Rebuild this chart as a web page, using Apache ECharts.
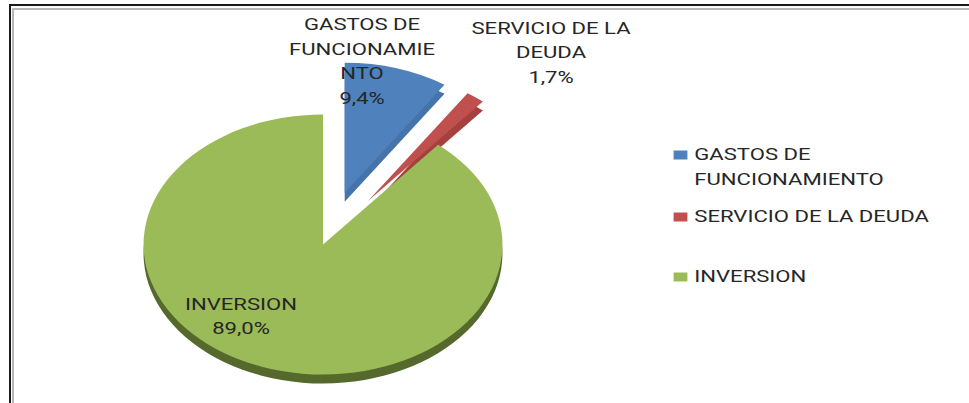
<!DOCTYPE html>
<html><head><meta charset="utf-8">
<script src="https://cdn.jsdelivr.net/npm/echarts@6/dist/echarts.min.js"></script>
<style>
html,body{margin:0;padding:0;background:#fff;overflow:hidden;}
#wrap{position:relative;width:969px;height:403px;overflow:hidden;background:#fff;}
#chart{position:absolute;left:0;top:0;width:702px;height:403px;transform:scaleX(1.38034);transform-origin:0 0;}
#f1{position:absolute;left:9px;top:4px;right:-10px;bottom:-10px;border-left:2px solid #1a1a1a;border-top:2px solid #1a1a1a;}
#f2{position:absolute;left:12px;top:8px;right:-10px;bottom:-10px;border-left:2px solid #b8b8b8;border-top:2px solid #b8b8b8;}
</style></head>
<body><div id="wrap"><div id="chart"></div><div id="f1"></div><div id="f2"></div></div>
<script>
// ---- data ----
const categories = ['GASTOS DE FUNCIONAMIENTO', 'SERVICIO DE LA DEUDA', 'INVERSION'];
const values = [9.4, 1.7, 89.0];
const sliceLabels = ['GASTOS DE\nFUNCIONAMIE\nNTO', 'SERVICIO DE LA\nDEUDA', 'INVERSION'];
const legendLabels = ['\nGASTOS DE\nFUNCIONAMIENTO', 'SERVICIO DE LA DEUDA', 'INVERSION'];
const exploded = [true, true, false];

// ---- style ----
const faceColors = ['#4F81BD', '#C0504D', '#9BBB59'];
const sideColors = ['#4674aa', '#a4413e', '#56692c'];
const labelPos = [[262.3, 61.5], [399.2, 53], [174.6, 316.5]];
const legendTops = [117.5, 204.5, 264.5];
const FONT = 'Roboto, "Liberation Sans", Arial, sans-serif';
const center = [234, 244.5];
const radius = 130;
const depth = 9;
const explodeOffset = 54;

function fmt(v) { return v.toFixed(1).replace('.', ',') + '%'; }

function buildData(colors, sel) {
  return categories.map((c, i) => ({
    name: c,
    value: values[i],
    selected: sel ? exploded[i] : false,
    itemStyle: { color: colors[i] }
  }));
}

const chart = echarts.init(document.getElementById('chart'), null, { renderer: 'svg' });

const legends = categories.map((c, i) => ({
  data: [c],
  orient: 'vertical',
  left: 488,
  top: legendTops[i],
  padding: 0,
  itemWidth: 10,
  itemHeight: 9,
  icon: 'rect',
  selectedMode: false,
  formatter: () => legendLabels[i],
  textStyle: { fontFamily: FONT, fontSize: 16, color: '#262626', lineHeight: 25 }
}));

const basePie = {
  type: 'pie',
  radius: radius,
  startAngle: 90,
  clockwise: true,
  emphasis: { disabled: true },
  labelLine: { show: false }
};

chart.setOption({
  animation: false,
  backgroundColor: '#fff',
  legend: legends,
  series: [
    Object.assign({}, basePie, {
      name: 'top',
      z: 3,
      center: center,
      selectedMode: 'multiple',
      selectedOffset: explodeOffset,
      label: { show: false },
      data: buildData(faceColors, true)
    }),
    Object.assign({}, basePie, {
      name: 'side',
      z: 2,
      silent: true,
      legendHoverLink: false,
      center: [center[0], center[1] + depth],
      selectedMode: 'multiple',
      selectedOffset: explodeOffset,
      label: { show: false },
      data: buildData(sideColors, true)
    }),
    Object.assign({}, basePie, {
      name: 'labels',
      z: 4,
      silent: true,
      legendHoverLink: false,
      center: center,
      selectedMode: false,
      avoidLabelOverlap: false,
      label: {
        show: true,
        position: 'outside',
        fontFamily: FONT,
        fontSize: 16,
        lineHeight: 24.5,
        color: '#262626',
        opacity: 1,
        align: 'center',
        formatter: p => sliceLabels[p.dataIndex] + '\n' + fmt(p.value)
      },
      labelLayout: p => ({
        x: labelPos[p.dataIndex][0],
        y: labelPos[p.dataIndex][1],
        align: 'center',
        verticalAlign: 'middle'
      }),
      data: buildData(['rgba(0,0,0,0)', 'rgba(0,0,0,0)', 'rgba(0,0,0,0)'], false)
    })
  ]
});
</script>
</body></html>
